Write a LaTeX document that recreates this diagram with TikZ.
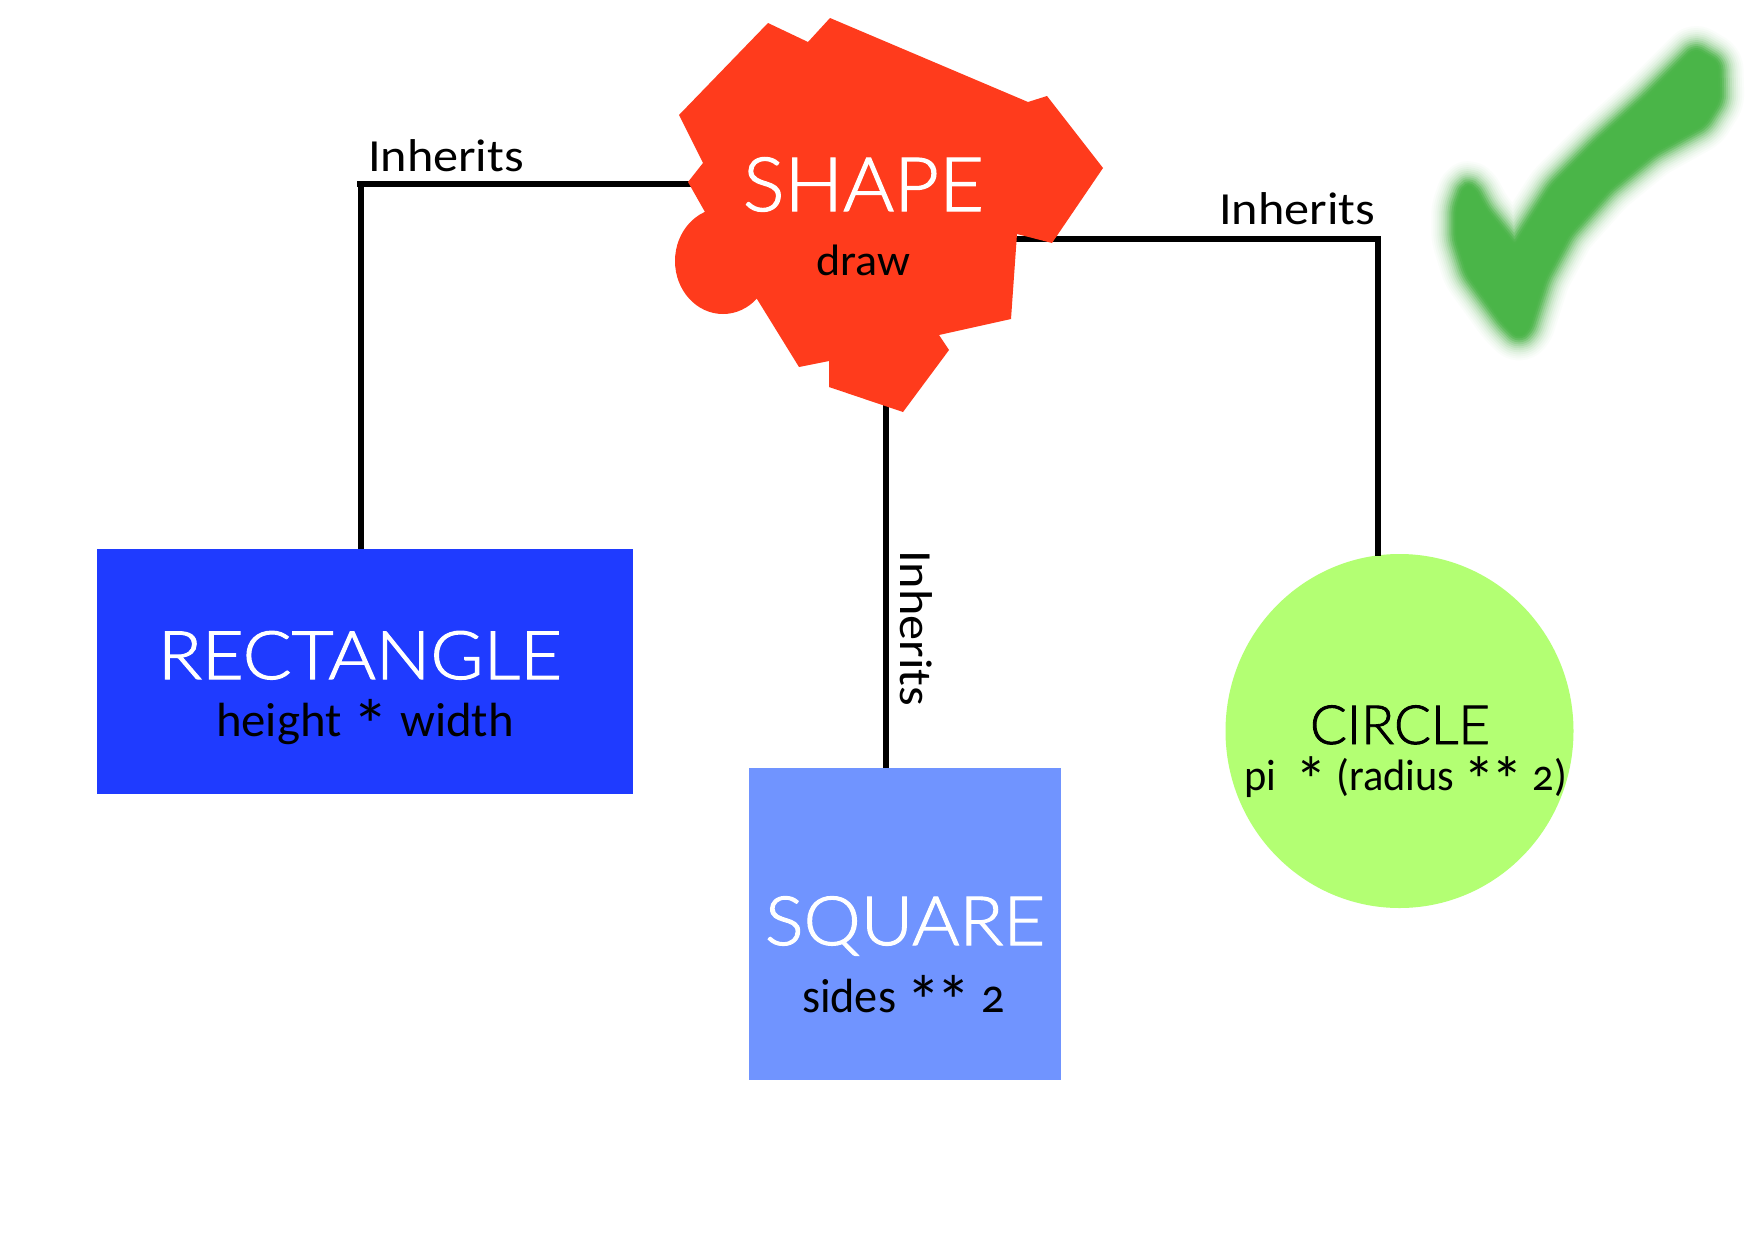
\documentclass[tikz,border=0pt]{standalone}
\usepackage{graphicx}
\usepackage{fontspec}
\usetikzlibrary{shapes.geometric}
\setmainfont[Numbers=OldStyle]{Carlito}
\newfontfamily\lightf[RawFeature={embolden=1.6}]{Lato Light}
\definecolor{redshape}{HTML}{FF3B1C}
\definecolor{blueshape}{HTML}{1F3BFF}
\definecolor{lightblue}{HTML}{7094FF}
\definecolor{limeshape}{HTML}{B3FF73}
\definecolor{checkgreen}{HTML}{4AB548}
\newcommand{\fitw}[2]{\resizebox{#1pt}{\height}{#2}}
\newcommand{\fs}[1]{\fontsize{#1pt}{#1pt}\selectfont}
\newcommand{\myast}{\raisebox{-0.3em}{\scalebox{1.5}{*}}}
\newcommand{\twoast}{\myast\kern-0.1em\myast}
\tikzset{
  connector/.style={line width=5.5pt,black,line cap=butt,line join=miter},
  label/.style={inner sep=0pt,outer sep=0pt,anchor=base west,black},
  boxnode/.style={inner sep=0pt,outer sep=0pt,draw=none}
}
\begin{document}
\begin{tikzpicture}[x=1pt,y=-1pt]
\useasboundingbox (0,0) rectangle (1748,1240);
\fill[white] (0,0) rectangle (1748,1240);
% boxes
\node[boxnode,fill=blueshape,minimum width=536pt,minimum height=245pt] (rect) at (365,671.5) {};
\node[boxnode,fill=lightblue,minimum width=312pt,minimum height=312pt] (square) at (905,924) {};
\node[boxnode,fill=limeshape,ellipse,minimum width=348pt,minimum height=354pt] (circ) at (1399.5,731) {};
% connectors
\coordinate (shapeL) at (695,184);
\coordinate (cornerL) at (361,184);
\coordinate (cornerLo) at (357,184);
\coordinate (shapeB) at (886,400);
\coordinate (shapeR) at (1010,239);
\coordinate (cornerR) at (1378,239);
\coordinate (circTop) at (1378,555.5);
\draw[connector] (shapeL) -- (cornerLo);
\draw[connector] (cornerL) -- (cornerL |- rect.north);
\draw[connector] (shapeB) -- (shapeB |- square.north);
\draw[connector] (shapeR) -- (cornerR) -- (circTop);
% composite shape
\fill[redshape] (768,23) -- (808,42) -- (830,18) -- (1028,102) -- (1047,96) -- (1103,168) -- (1052,243) -- (1017,234) -- (1011,319) -- (939,335) -- (949,350) -- (903,412) -- (829,387) -- (829,361) -- (799,367) -- (757,299) -- (705,212) -- (688,182) -- (703,163) -- (679,115) -- cycle;
\fill[redshape] (723,261) ellipse [x radius=48,y radius=53];
% check mark
\begin{scope}[xshift=1420pt,x=0.33333pt,y=-0.33333pt]
\def\checkpath{(825,150) -- (892,190) -- (895,300) -- (850,372) -- (700,455) -- (565,565) -- (445,700) -- (372,835) -- (322,990) -- (295,1010) -- (250,965) -- (145,820) -- (112,715) -- (112,625) -- (135,560) -- (160,565) -- (195,630) -- (285,740) -- (400,560) -- (530,430) -- (680,295) -- cycle}
\foreach \w/\o in {52/.025,48/.03,44/.04,40/.05,36/.07,32/.09,28/.12,24/.16,20/.22,16/.32,12/.45,8/.6,4/.8}{
  \draw[checkgreen,line width=\w pt,line join=round,draw opacity=\o,rounded corners=6pt] \checkpath;
}
\fill[checkgreen,rounded corners=6pt] \checkpath;
\end{scope}
% labels
\node[label,text=white] (shapeT) at (743,211) {\fitw{241}{\lightf\fs{75}SHAPE}};
\node[label] (shapeS) at (816,275) {\fitw{94}{\fs{44}draw}};
\node[label,text=white] (rectT) at (158,679) {\fitw{404}{\lightf\fs{67}RECTANGLE}};
\node[label] (rectS) at (216,736) {\fitw{298}{\fs{48}height \myast\ width}};
\node[label,text=white] (squareT) at (765,945) {\fitw{280}{\lightf\fs{68}SQUARE}};
\node[label] (squareS) at (802,1012) {\fitw{203}{\fs{48}sides \twoast\ 2}};
\node[label] (circT) at (1310,744) {\fitw{180}{\lightf\fs{54}CIRCLE}};
\node[label] (circS) at (1244,790) {\fitw{323}{\fs{44}pi\ \ \myast\ (radius \twoast\ 2)}};
\node[label] (inhL) at (368,171.5) {\fitw{156}{\fs{46}Inherits}};
\node[label] (inhR) at (1219,224) {\fitw{156}{\fs{46}Inherits}};
\node[label,rotate=-90] (inhB) at (900,550) {\fitw{156}{\fs{46}Inherits}};
\end{tikzpicture}
\end{document}
